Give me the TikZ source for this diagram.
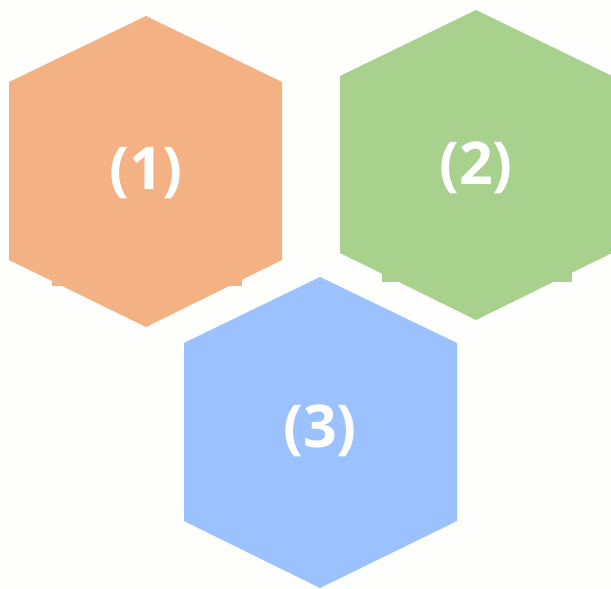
\documentclass[tikz,border=0pt]{standalone}
\usepackage{fontspec}
\setmainfont{Open Sans}
\definecolor{hexorange}{HTML}{F4B183}
\definecolor{hexgreen}{HTML}{A9D18E}
\definecolor{hexblue}{HTML}{9BC2FF}
\definecolor{bgcol}{HTML}{FEFEFD}
\begin{document}
\begin{tikzpicture}[x=1pt,y=-1pt,
  hexlabel/.style={text=white,font=\fontsize{59}{66}\selectfont\bfseries,inner sep=0pt}]
\fill[bgcol] (0,0) rectangle (611,589);
\useasboundingbox (0,0) rectangle (611,589);
% hexagon 1
\fill[hexorange] (52,200) rectangle (242,286);
\fill[hexorange] (146,16) -- (282,82) -- (282,260) -- (146,327) -- (9,260) -- (9,82) -- cycle;
\node[hexlabel] (l1) at (146,173) {(1)};
% hexagon 2
\fill[hexgreen] (382,200) rectangle (572,282);
\fill[hexgreen] (476,10) -- (612,76) -- (612,253) -- (476,320) -- (340,253) -- (340,76) -- cycle;
\node[hexlabel] (l2) at (476,168) {(2)};
% hexagon 3
\fill[hexblue] (320,277) -- (457,343) -- (457,521) -- (320,588) -- (184,521) -- (184,343) -- cycle;
\node[hexlabel] (l3) at (320,431) {(3)};
\end{tikzpicture}
\end{document}
